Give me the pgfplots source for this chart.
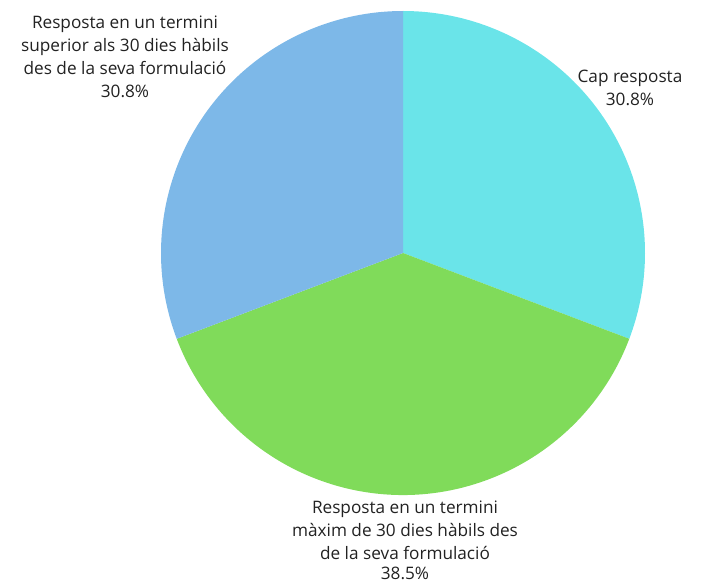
\documentclass[border=0pt]{standalone}
\usepackage{pgfplots}
\pgfplotsset{compat=1.18}
\usepackage{pgfplotstable}
\usepackage{fontspec}
\setmainfont{Open Sans}

\definecolor{slice0}{RGB}{106,228,233}
\definecolor{slice1}{RGB}{128,219,90}
\definecolor{slice2}{RGB}{125,184,232}
\definecolor{txt}{RGB}{34,34,34}

% share of each answer, in percent, clockwise from the top
\pgfplotstableread{
idx value
0 30.8
1 38.5
2 30.8
}\piedata

\begin{document}
\begin{tikzpicture}
\begin{axis}[
    name=ax,
    width=701pt, height=585pt,
    scale only axis,
    xmin=0, xmax=701, ymin=0, ymax=585,
    y dir=reverse,
    hide axis,
    clip=false,
]
\def\angstart{90}
\pgfplotsforeachungrouped \i in {0,1,2}{
    \pgfplotstablegetelem{\i}{value}\of\piedata
    \pgfmathsetmacro\angend{\angstart - \pgfplotsretval*360/100.1}
    \edef\temp{\noexpand\fill[slice\i] (axis cs:403,253) -- ++(\angstart:242pt)
        arc[start angle=\angstart, end angle=\angend, radius=242pt] -- cycle;}
    \temp
    \global\let\angstart\angend
}
\begin{scope}[every node/.style={text=txt, font=\fontsize{17.2}{23}\selectfont, align=center, inner sep=0pt}]
\node at (axis cs:125,57) {Resposta en un termini\\superior als 30 dies hàbils\\des de la seva formulació\\30.8\%};
\node at (axis cs:630,88) {Cap resposta\\30.8\%};
\node[anchor=south] at (axis cs:405,580) {Resposta en un termini\\màxim de 30 dies hàbils des\\de la seva formulació\\[-3pt]38.5\%};
\end{scope}
\end{axis}
\pgfresetboundingbox
\path (ax.south west) rectangle (ax.north east);
\end{tikzpicture}
\end{document}
